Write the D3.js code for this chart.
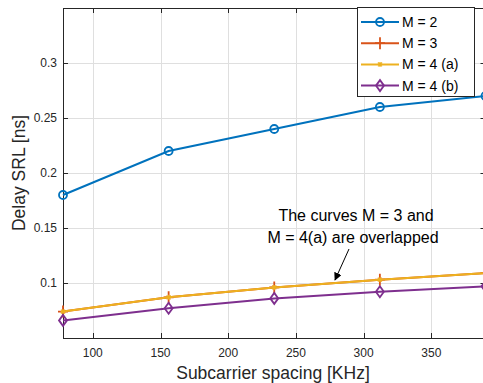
<!DOCTYPE html>
<html>
<head>
<meta charset="utf-8">
<script src="https://cdn.jsdelivr.net/npm/d3@7"></script>
<style>
  body { margin: 0; background: #fff; }
  svg { display: block; font-family: "Liberation Sans", Arial, sans-serif; }
</style>
</head>
<body>
<svg id="chart" width="483" height="383"></svg>
<script>
// Data
const spacing = [78, 156, 234, 312, 390];
const m2 = [0.18, 0.22, 0.24, 0.26, 0.27];
const m3 = [0.074, 0.087, 0.096, 0.103, 0.109];
const m4a = [0.074, 0.087, 0.096, 0.103, 0.109];
const m4b = [0.066, 0.077, 0.086, 0.092, 0.097];
const xTicks = [100, 150, 200, 250, 300, 350];
const yTicks = [0.1, 0.15, 0.2, 0.25, 0.3];

const series = [
  { name: "M = 2", values: m2, color: "#0072BD", marker: "circle" },
  { name: "M = 3", values: m3, color: "#D95319", marker: "plus" },
  { name: "M = 4 (a)", values: m4a, color: "#EDB120", marker: "star" },
  { name: "M = 4 (b)", values: m4b, color: "#7E2F8E", marker: "diamond" }
];

const svg = d3.select("#chart");
const pLeft = 63, pTop = 8, pRight = 485.5, pBottom = 338;
const axisColor = "#262626";

const x = d3.scaleLinear().domain([78, 390]).range([pLeft, pRight]);
const y = d3.scaleLinear().domain([0.05, 0.35]).range([pBottom, pTop]);

// Grid
const grid = svg.append("g").attr("stroke", "#dfdfdf").attr("stroke-width", 1);
grid.selectAll(".gx").data(xTicks).join("line")
  .attr("x1", d => Math.round(x(d)) + 0.5).attr("x2", d => Math.round(x(d)) + 0.5)
  .attr("y1", pTop).attr("y2", pBottom);
grid.selectAll(".gy").data(yTicks).join("line")
  .attr("y1", d => Math.round(y(d)) + 0.5).attr("y2", d => Math.round(y(d)) + 0.5)
  .attr("x1", pLeft).attr("x2", pRight);

// Axes (MATLAB box with inward ticks)
const tickLen = 5;
const ax = svg.append("g").attr("stroke", axisColor).attr("stroke-width", 1);
ax.append("rect").attr("x", pLeft + 0.5).attr("y", pTop + 0.5)
  .attr("width", pRight - pLeft).attr("height", pBottom - pTop).attr("fill", "none");
xTicks.forEach(t => {
  const px = Math.round(x(t)) + 0.5;
  ax.append("line").attr("x1", px).attr("x2", px).attr("y1", pBottom).attr("y2", pBottom - tickLen);
  ax.append("line").attr("x1", px).attr("x2", px).attr("y1", pTop).attr("y2", pTop + tickLen);
});
yTicks.forEach(t => {
  const py = Math.round(y(t)) + 0.5;
  ax.append("line").attr("x1", pLeft).attr("x2", pLeft + tickLen).attr("y1", py).attr("y2", py);
  ax.append("line").attr("x1", pRight).attr("x2", pRight - tickLen).attr("y1", py).attr("y2", py);
});

svg.append("g").selectAll("text").data(xTicks).join("text")
  .attr("x", d => x(d)).attr("y", pBottom + 19)
  .attr("text-anchor", "middle").attr("font-size", 12).attr("fill", axisColor)
  .text(d => d);
svg.append("g").selectAll("text").data(yTicks).join("text")
  .attr("x", pLeft - 6).attr("y", d => y(d) + 4)
  .attr("text-anchor", "end").attr("font-size", 12).attr("fill", axisColor)
  .text(d => +d.toFixed(2));

svg.append("text").attr("x", 273).attr("y", 379).attr("text-anchor", "middle")
  .attr("font-size", 17.5).attr("fill", axisColor).text("Subcarrier spacing [KHz]");
svg.append("text").attr("transform", `translate(25,${(pTop + pBottom) / 2}) rotate(-90)`)
  .attr("text-anchor", "middle").attr("font-size", 17.5).attr("fill", axisColor)
  .text("Delay SRL [ns]");

// Markers
function drawMarker(g, type, cx, cy, color) {
  if (type === "circle") {
    g.append("circle").attr("cx", cx).attr("cy", cy).attr("r", 4)
      .attr("fill", "none").attr("stroke", color).attr("stroke-width", 1.8);
  } else if (type === "plus") {
    g.append("path").attr("d", `M${cx - 5},${cy}H${cx + 5}M${cx},${cy - 6}V${cy + 6}`)
      .attr("stroke", color).attr("stroke-width", 1.8).attr("fill", "none");
  } else if (type === "star") {
    g.append("path").attr("d", `M${cx - 2.5},${cy}H${cx + 2.5}M${cx},${cy - 2.5}V${cy + 2.5}M${cx - 2},${cy - 2}L${cx + 2},${cy + 2}M${cx - 2},${cy + 2}L${cx + 2},${cy - 2}`)
      .attr("stroke", color).attr("stroke-width", 1.2).attr("fill", "none");
  } else if (type === "diamond") {
    g.append("path").attr("d", `M${cx},${cy - 5.5}L${cx + 4},${cy}L${cx},${cy + 5.5}L${cx - 4},${cy}Z`)
      .attr("stroke", color).attr("stroke-width", 1.8).attr("fill", "none");
  }
}

const line = d3.line().x((d, i) => x(spacing[i])).y(d => y(d));
const plot = svg.append("g");
series.forEach(s => {
  plot.append("path").datum(s.values).attr("d", line)
    .attr("fill", "none").attr("stroke", s.color).attr("stroke-width", 2);
  const g = plot.append("g");
  s.values.forEach((v, i) => drawMarker(g, s.marker, x(spacing[i]), y(v), s.color));
});

// Legend
const lg = svg.append("g");
lg.append("rect").attr("x", 357.5).attr("y", 7.5).attr("width", 117).attr("height", 89)
  .attr("fill", "#fff").attr("stroke", axisColor).attr("stroke-width", 1);
series.forEach((s, i) => {
  const ly = 22 + i * 21.2;
  lg.append("line").attr("x1", 361).attr("x2", 399).attr("y1", ly).attr("y2", ly)
    .attr("stroke", s.color).attr("stroke-width", 2);
  drawMarker(lg, s.marker, 380, ly, s.color);
  lg.append("text").attr("x", 402).attr("y", ly + 5).attr("font-size", 14)
    .attr("fill", "#000").text(s.name);
});

// Annotation
const ann = svg.append("g").attr("font-size", 16).attr("fill", "#000").attr("text-anchor", "middle");
ann.append("text").attr("x", 356).attr("y", 221).text("The curves M = 3 and");
ann.append("text").attr("x", 353).attr("y", 243).text("M = 4(a) are overlapped");
svg.append("defs").append("marker").attr("id", "arrow").attr("viewBox", "0 0 10 10")
  .attr("refX", 9).attr("refY", 5).attr("markerWidth", 8).attr("markerHeight", 8)
  .attr("orient", "auto").attr("markerUnits", "userSpaceOnUse")
  .append("path").attr("d", "M0,0L10,5L0,10Z").attr("fill", "#000");
svg.append("line").attr("x1", 349).attr("y1", 249).attr("x2", 335).attr("y2", 280)
  .attr("stroke", "#000").attr("stroke-width", 1).attr("marker-end", "url(#arrow)");
</script>
</body>
</html>
